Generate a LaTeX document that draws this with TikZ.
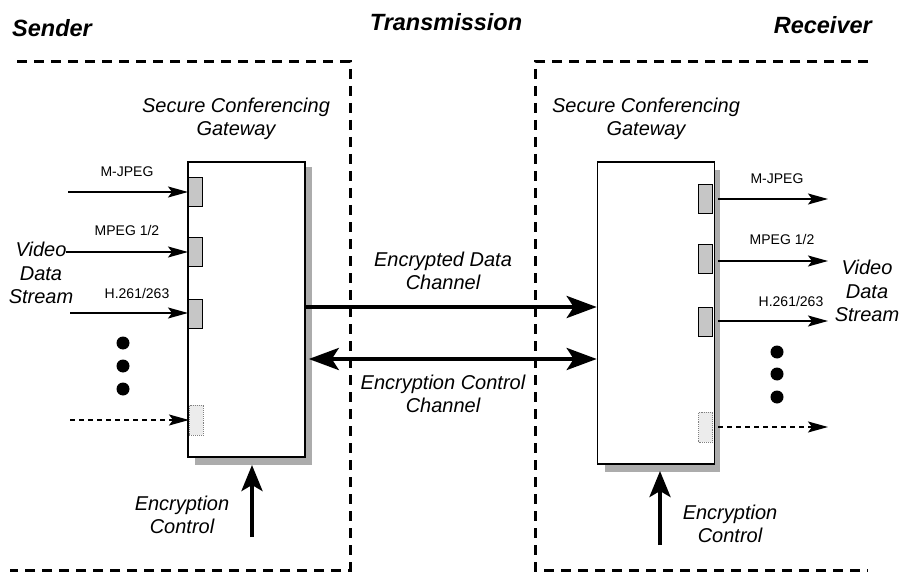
\documentclass[tikz,border=0pt]{standalone}
\usepackage{fontspec}
\setmainfont{Liberation Sans}
\usetikzlibrary{arrows.meta}
\begin{document}
\begin{tikzpicture}[x=1pt,y=-1pt,
  region/.style={line width=3pt, dash pattern=on 10pt off 7pt},
  gwbox/.style={draw, line width=1.6pt, fill=white, inner sep=0pt, minimum width=117pt},
  shade/.style={fill=gray!65, draw=none},
  port/.style={draw, line width=0.9pt, fill=gray!45, inner sep=0pt, minimum width=14pt, minimum height=29pt},
  dport/.style={draw=gray, densely dotted, fill=gray!15, line width=0.9pt, inner sep=0pt, minimum width=14pt, minimum height=30pt},
  thinarr/.style={line width=1.5pt, -{Stealth[length=20pt,width=11pt,inset=4pt]}},
  dasharr/.style={thinarr, dash pattern=on 5pt off 4pt},
  bigarr/.style={line width=4pt, -{Stealth[length=30pt,width=22pt,inset=7pt]}},
  bigdbl/.style={line width=4pt, {Stealth[length=30pt,width=22pt,inset=7pt]}-{Stealth[length=30pt,width=22pt,inset=7pt]}},
  ctrlarr/.style={line width=4pt, -{Stealth[length=26pt,width=21pt,inset=6pt]}},
  lab/.style={font=\fontsize{20}{23.5}\selectfont\itshape, align=center, inner sep=0pt},
  small/.style={font=\fontsize{14}{16}\selectfont, inner sep=0pt},
  ttl/.style={font=\fontsize{23.5}{26}\selectfont\bfseries\itshape, inner sep=0pt},
  dot/.style={circle, fill=black, inner sep=0pt, minimum size=13pt}]
\useasboundingbox (0,0) rectangle (910,572);

% titles
\node[ttl, anchor=west] (tsend) at (12,28) {Sender};
\node[ttl] (ttrans) at (446,22) {Transmission};
\node[ttl, anchor=east] (trecv) at (872,25) {Receiver};

% regions
\draw[region] (17,62) -- (350,62) -- (350,570) -- (10,570);
\draw[region] (868,62) -- (535,62) -- (535,570) -- (868,570);

% sender gateway
\fill[shade] (195,167) rectangle (312,465);
\node[gwbox, minimum height=295pt] (sgw) at (246.5,309.5) {};
\node[lab] (sgwl) at (236,119) {Secure Conferencing\\Gateway};
\node[port, anchor=west] (sp1) at (188,192) {};
\node[port, anchor=west] (sp2) at (188,252) {};
\node[port, anchor=west] (sp3) at (188,314) {};
\node[dport, anchor=west] (sp4) at (189,420) {};

% receiver gateway
\fill[shade] (605,170) rectangle (720,472);
\node[gwbox, minimum height=302pt] (rgw) at (656,313) {};
\node[lab] (rgwl) at (646,119) {Secure Conferencing\\Gateway};
\node[port, anchor=east] (rp1) at (713,199) {};
\node[port, anchor=east] (rp2) at (713,259) {};
\node[port, anchor=east] (rp3) at (713,322) {};
\node[dport, anchor=east] (rp4) at (713,427) {};

% sender inputs
\coordinate (si1) at (68,192);
\coordinate (si2) at (66,252);
\coordinate (si3) at (70,313);
\coordinate (si4) at (70,420);
\draw[thinarr] (si1) -- (sp1.west);
\draw[thinarr] (si2) -- (sp2.west);
\draw[thinarr] (si3) -- (sp3.west |- si3);
\draw[dasharr] (si4) -- (sp4.west);
\node[small] (sl1) at (127,172) {M-JPEG};
\node[small] (sl2) at (127,230) {MPEG 1/2};
\node[small] (sl3) at (137,293) {H.261/263};
\node[lab] (svds) at (41,273) {Video\\Data\\Stream};
\node[dot] (sd1) at (123,343) {};
\node[dot] (sd2) at (123,366) {};
\node[dot] (sd3) at (123,389) {};

% receiver outputs
\coordinate (ro1) at (828,199);
\coordinate (ro2) at (828,261);
\coordinate (ro3) at (828,321);
\coordinate (ro4) at (828,427);
\draw[thinarr] (rp1.east) ++(5,0) -- (ro1);
\draw[thinarr] (rp2.east |- ro2) ++(5,0) -- (ro2);
\draw[thinarr] (rp3.east |- ro3) ++(5,0) -- (ro3);
\draw[dasharr] (rp4.east) ++(5,0) -- (ro4);
\node[small] (rl1) at (777,179) {M-JPEG};
\node[small] (rl2) at (782,239) {MPEG 1/2};
\node[small] (rl3) at (791,301) {H.261/263};
\node[lab] (rvds) at (867,291) {Video\\Data\\Stream};
\node[dot] (rd1) at (777,352) {};
\node[dot] (rd2) at (777,374) {};
\node[dot] (rd3) at (777,397) {};

% channels
\coordinate (edc) at (450,307);
\coordinate (ecc) at (450,359);
\draw[bigarr] (sgw.east |- edc) -- (rgw.west |- edc);
\draw[bigdbl] ([xshift=3pt]sgw.east |- ecc) -- (rgw.west |- ecc);
\node[lab] (edl) at (443,271) {Encrypted Data\\Channel};
\node[lab] (ecl) at (443,394) {Encryption Control\\Channel};

% encryption control inputs
\coordinate (sec) at (252,537);
\coordinate (sect) at (252,465);
\draw[ctrlarr] (sec) -- (sect);
\node[lab] (secl) at (182,515) {Encryption\\Control};
\coordinate (rec) at (660,545);
\coordinate (rect) at (660,471);
\draw[ctrlarr] (rec) -- (rect);
\node[lab] (recl) at (730,524) {Encryption\\Control};
\end{tikzpicture}
\end{document}
